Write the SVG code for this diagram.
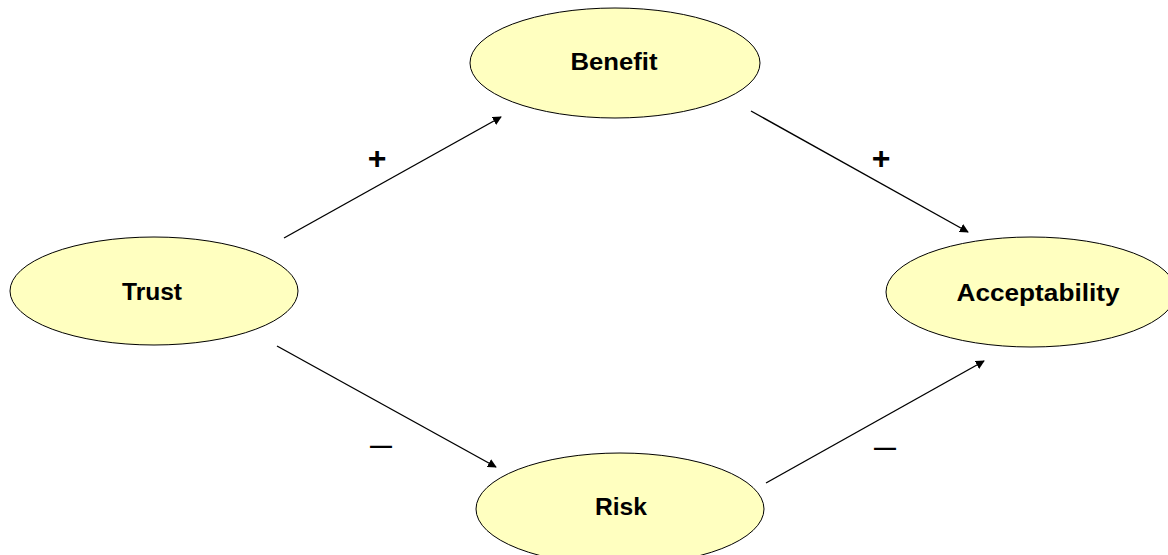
<svg xmlns="http://www.w3.org/2000/svg" width="1168" height="555" viewBox="0 0 1168 555">
<style>
.node ellipse{fill:#ffffc0;stroke:#000;stroke-width:1}
.lbl{font-family:"Liberation Sans",Arial,sans-serif;font-weight:bold;font-size:23px;fill:#000;text-anchor:middle}
.sign{font-family:"Liberation Sans",Arial,sans-serif;font-weight:bold;fill:#000;text-anchor:middle}
.conn line{stroke:#000;stroke-width:1.4;marker-end:url(#ah)}
</style>
<defs>
<marker id="ah" viewBox="0 0 10 10" refX="9" refY="5" markerWidth="9" markerHeight="9" orient="auto" markerUnits="userSpaceOnUse">
<path d="M0,0 L10,5 L0,10 z" fill="#000"/>
</marker>
</defs>
<rect width="1168" height="555" fill="#fff"/>
<g class="conn" id="connectors">
<line x1="284" y1="238" x2="501" y2="117"/>
<line x1="751" y1="111" x2="968" y2="232"/>
<line x1="277" y1="346" x2="496" y2="467"/>
<line x1="766" y1="483" x2="984" y2="361"/>
</g>
<g id="signs">
<text class="sign" x="377" y="169" font-size="32">+</text>
<text class="sign" x="881" y="169" font-size="32">+</text>
<text class="sign" x="381" y="453" font-size="22">—</text>
<text class="sign" x="885" y="455" font-size="22">—</text>
</g>
<g class="node" id="benefit">
<ellipse cx="615" cy="63" rx="145" ry="55"/>
<text class="lbl" x="614" y="70" textLength="87" lengthAdjust="spacingAndGlyphs">Benefit</text>
</g>
<g class="node" id="trust">
<ellipse cx="154" cy="291" rx="144" ry="54"/>
<text class="lbl" x="152" y="300" textLength="60" lengthAdjust="spacingAndGlyphs">Trust</text>
</g>
<g class="node" id="acceptability">
<ellipse cx="1031" cy="292" rx="145" ry="55"/>
<text class="lbl" x="1038" y="301" textLength="163" lengthAdjust="spacingAndGlyphs">Acceptability</text>
</g>
<g class="node" id="risk">
<ellipse cx="620" cy="509" rx="144" ry="56"/>
<text class="lbl" x="621" y="515" textLength="52" lengthAdjust="spacingAndGlyphs">Risk</text>
</g>
</svg>
